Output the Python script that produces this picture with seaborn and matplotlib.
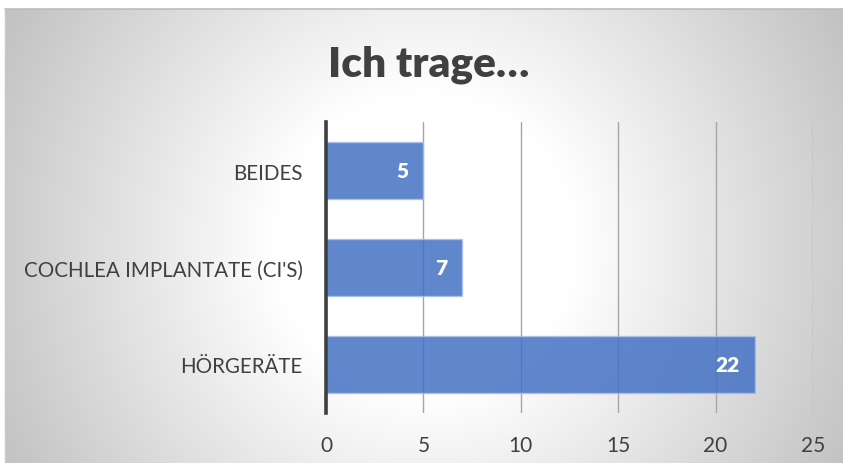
import numpy as np
import pandas as pd
import matplotlib
matplotlib.use("Agg")
import matplotlib.pyplot as plt
import seaborn as sns

categories = ["BEIDES", "COCHLEA IMPLANTATE (CI'S)", "HÖRGERÄTE"]
values = [5, 7, 22]
x_ticks = [0, 5, 10, 15, 20, 25]
title = "Ich trage…"

sns.set_theme(style="white")
plt.rcParams['font.family'] = ['Lato', 'DejaVu Sans']

W, H = 843, 464
fig = plt.figure(figsize=(W / 100, H / 100), dpi=100)
fig.patch.set_facecolor("white")

# radial gradient background
bx0, by_top = 5, 10
bg = fig.add_axes([bx0 / W, 0, (W - bx0) / W, (H - by_top) / H], zorder=-5)
bw, bh = W - bx0, H - by_top
xx, yy = np.meshgrid(np.arange(bw), np.arange(bh))
cx, cy = 425 - bx0, 245 - by_top
r = np.sqrt((xx - cx) ** 2 + (yy - cy) ** 2)
t = np.clip((r - 150) / 320, 0, 1)
g = (255 - t * 60) / 255
img = np.dstack([g, g, g])
bg.imshow(img, aspect="auto", extent=[0, bw, bh, 0], interpolation="bilinear")
bg.set_xlim(0, bw)
bg.set_ylim(bh, 0)
bg.axis("off")
# thin border on top and left
fig.add_artist(plt.Line2D([bx0 / W, 1], [1 - by_top / H, 1 - by_top / H], color="#bcbcbc", lw=1.2, transform=fig.transFigure))
fig.add_artist(plt.Line2D([bx0 / W, bx0 / W], [0, 1 - by_top / H], color="#c8c8c8", lw=1.0, transform=fig.transFigure))

ax = fig.add_axes([326 / W, 1 - 414 / H, (813 - 326) / W, (414 - 123) / H])
ax.set_facecolor("none")

df = pd.DataFrame({"cat": categories, "val": values})
sns.barplot(data=df, x="val", y="cat", orient="h", color="#4472C4", width=0.59,
            saturation=1, ax=ax, zorder=3, alpha=0.85,
            edgecolor="#a9c0e8", linewidth=1.0)

for i, v in enumerate(values):
    ax.annotate(str(v), xy=(v, i), xytext=(-11, 0), textcoords="offset points",
                ha="right", va="center", color="white", fontsize=15,
                fontweight="heavy", zorder=5)

ax.set_xlim(0, 25)
ax.set_ylim(2.5, -0.5)
ax.set_xticks(x_ticks)
ax.set_xticklabels([str(t) for t in x_ticks])
ax.xaxis.grid(True, color="#a6a6a6", linewidth=1.0, zorder=0)
ax.yaxis.grid(False)
ax.set_axisbelow(True)
for s in ["top", "right", "bottom"]:
    ax.spines[s].set_visible(False)
ax.spines["left"].set_color("#404040")
ax.spines["left"].set_linewidth(2.6)
ax.spines["left"].set_zorder(6)
ax.tick_params(axis="x", length=0, pad=16, labelsize=15, labelcolor="#404040")
ax.tick_params(axis="y", length=0, pad=17, labelsize=14.8, labelcolor="#404040")
ax.set_xlabel("")
ax.set_ylabel("")

fig.text(429 / W, 1 - 77 / H, title, ha="center", va="baseline",
         fontsize=30.5, fontweight="heavy", color="#404040")

fig.savefig("out.png", dpi=100)
